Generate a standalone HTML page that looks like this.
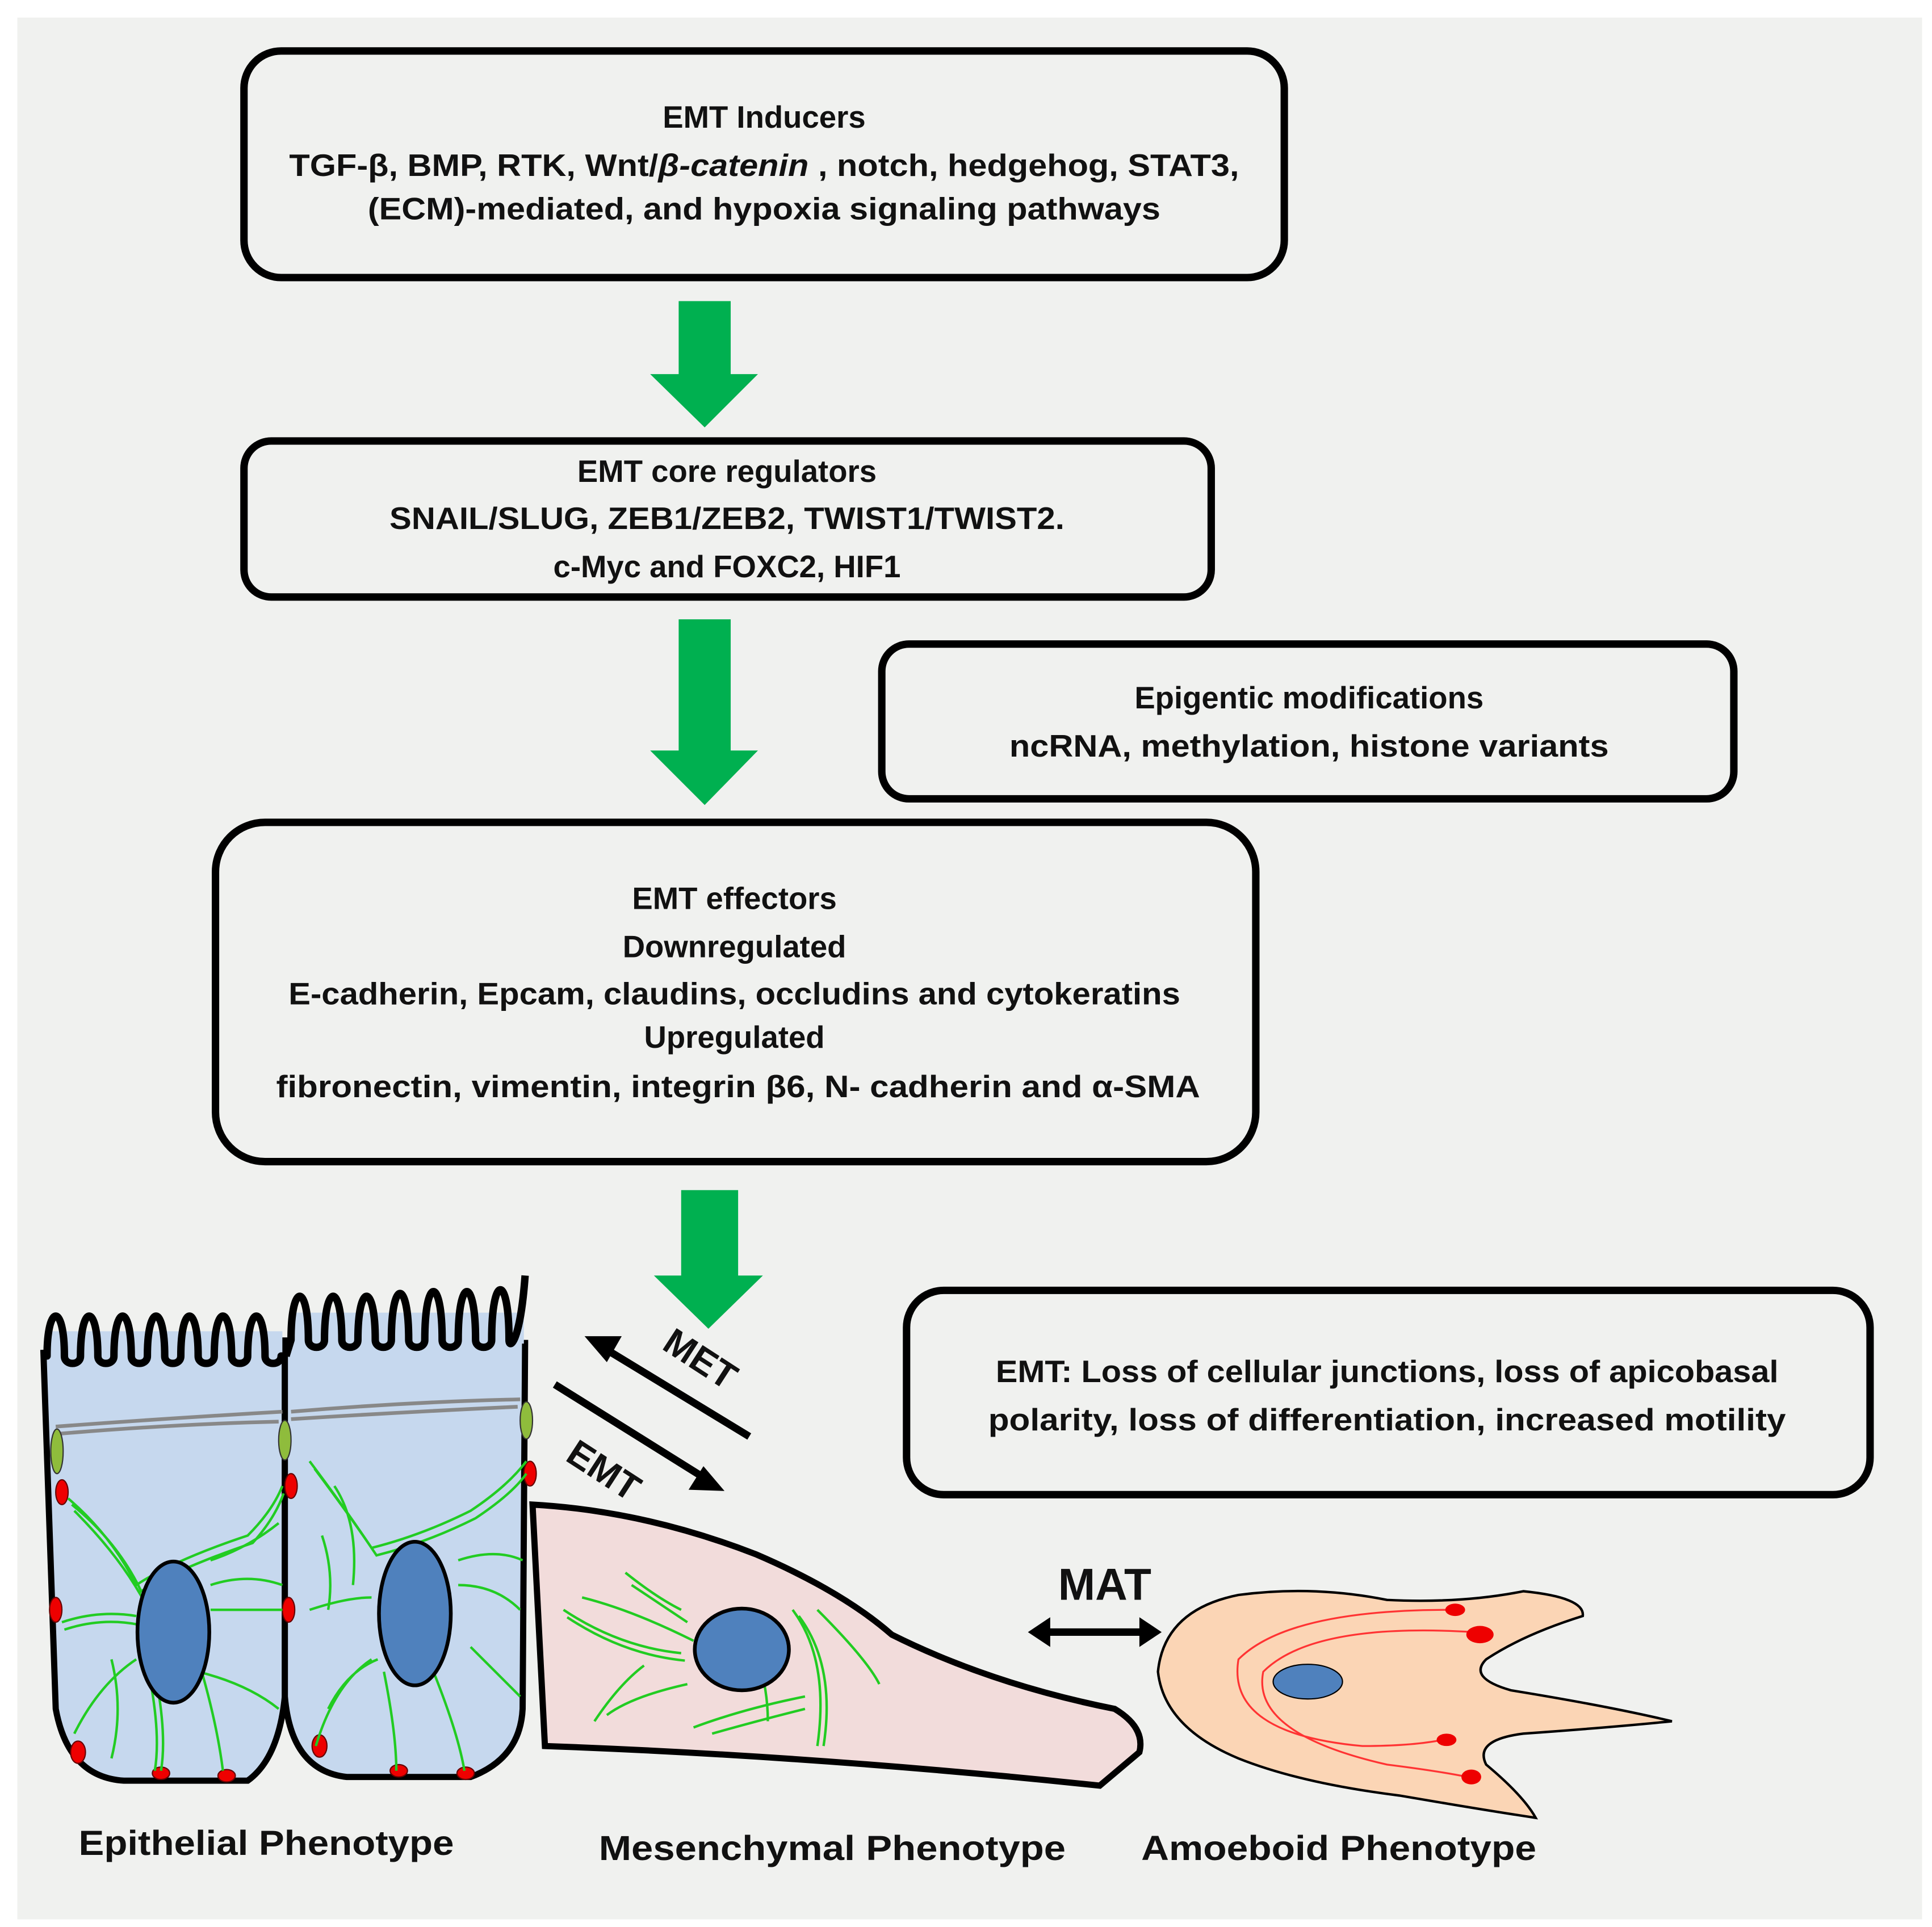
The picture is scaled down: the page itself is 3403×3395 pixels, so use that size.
<!DOCTYPE html>
<html><head><meta charset="utf-8"><style>
html,body{margin:0;padding:0;background:#fff}
svg{display:block}
text{font-family:"Liberation Sans",sans-serif;font-weight:bold;fill:#111;text-anchor:middle}
</style></head><body>
<svg width="3403" height="3395" viewBox="0 0 1560 1556" xmlns="http://www.w3.org/2000/svg">
<rect x="0" y="0" width="1560" height="1556" fill="#fff"/>
<rect x="14" y="14" width="1538" height="1536" fill="#f0f1ef"/>
<g fill="none" stroke="#000" stroke-width="6">
<rect x="197" y="41" width="840" height="183" rx="30"/>
<rect x="197" y="356" width="781" height="126" rx="22"/>
<rect x="712" y="520" width="688" height="125" rx="22"/>
<rect x="174" y="664" width="840" height="274" rx="40"/>
<rect x="732" y="1042" width="778" height="165" rx="30"/>
</g>
<g fill="#00b050">
<polygon points="548,243 590,243 590,302 612,302 569,345 525,302 548,302"/>
<polygon points="548,500 590,500 590,606 612,606 569,650 525,606 548,606"/>
<polygon points="550,961 596,961 596,1030 616,1030 572,1073 528,1030 550,1030"/>
</g>
<g font-size="25">
<text x="617" y="103">EMT Inducers</text>
<text x="617" y="142" textLength="767" lengthAdjust="spacingAndGlyphs">TGF-β, BMP, RTK, Wnt/<tspan font-style="italic">β-catenin</tspan> , notch, hedgehog, STAT3,</text>
<text x="617" y="177" textLength="640" lengthAdjust="spacingAndGlyphs">(ECM)-mediated, and hypoxia signaling pathways</text>
<text x="587" y="389">EMT core regulators</text>
<text x="587" y="427" textLength="545" lengthAdjust="spacingAndGlyphs">SNAIL/SLUG, ZEB1/ZEB2, TWIST1/TWIST2.</text>
<text x="587" y="466">c-Myc and FOXC2, HIF1</text>
<text x="1057" y="572">Epigentic modifications</text>
<text x="1057" y="611" textLength="484" lengthAdjust="spacingAndGlyphs">ncRNA, methylation, histone variants</text>
<text x="593" y="734">EMT effectors</text>
<text x="593" y="773">Downregulated</text>
<text x="593" y="811" textLength="720" lengthAdjust="spacingAndGlyphs">E-cadherin, Epcam, claudins, occludins and cytokeratins</text>
<text x="593" y="846">Upregulated</text>
<text x="596" y="886" textLength="746" lengthAdjust="spacingAndGlyphs">fibronectin, vimentin, integrin β6, N- cadherin and α-SMA</text>
<text x="1120" y="1116" textLength="632" lengthAdjust="spacingAndGlyphs">EMT: Loss of cellular junctions, loss of apicobasal</text>
<text x="1120" y="1155" textLength="644" lengthAdjust="spacingAndGlyphs">polarity, loss of differentiation, increased motility</text>
<text x="215" y="1498" font-size="28" textLength="303" lengthAdjust="spacingAndGlyphs">Epithelial Phenotype</text>
<text x="672" y="1502" font-size="28" textLength="377" lengthAdjust="spacingAndGlyphs">Mesenchymal  Phenotype</text>
<text x="1081" y="1502" font-size="28" textLength="319" lengthAdjust="spacingAndGlyphs">Amoeboid Phenotype</text>
<text x="892" y="1292" font-size="36">MAT</text>
<text transform="translate(560,1106) rotate(33)" font-size="30">MET</text>
<text transform="translate(482,1196) rotate(33)" font-size="30">EMT</text>
</g>
<g stroke="#000" stroke-width="6" fill="#000">
<line x1="605" y1="1160" x2="490" y2="1090"/>
<polygon points="472,1079 502,1079 490,1100" stroke="none"/>
<line x1="448" y1="1118" x2="568" y2="1193"/>
<polygon points="585,1204 556,1203 568,1184" stroke="none"/>
<line x1="845" y1="1318" x2="925" y2="1318"/>
<polygon points="830,1318 848,1306 848,1330" stroke="none"/>
<polygon points="938,1318 920,1306 920,1330" stroke="none"/>
</g>
<g stroke="#000" stroke-width="5">
<path d="M35,1090 Q40,1250 45,1380 Q55,1435 100,1438 L200,1438 Q225,1420 230,1370 L230,1090" fill="#c6d8ee"/>
<path d="M230,1080 L230,1370 Q235,1430 280,1435 L380,1435 Q420,1420 422,1380 L424,1082" fill="#c6d8ee"/>
<rect x="38" y="1075" width="190" height="20" fill="#c6d8ee" stroke="none"/>
<rect x="235" y="1060" width="188" height="25" fill="#c6d8ee" stroke="none"/>
</g>
<g fill="none" stroke="#000" stroke-width="6" stroke-linejoin="round">
<path d="M35,1095 L38,1095 C38,1052 52,1052 52,1095 C52,1103 65,1103 65,1095 C65,1052 79,1052 79,1095 C79,1103 92,1103 92,1095 C92,1052 106,1052 106,1095 C106,1103 119,1103 119,1095 C119,1052 133,1052 133,1095 C133,1103 146,1103 146,1095 C146,1052 160,1052 160,1095 C160,1103 173,1103 173,1095 C173,1052 187,1052 187,1095 C187,1103 200,1103 200,1095 C200,1052 214,1052 214,1095 C214,1103 227,1103 227,1095 L231,1095"/>
<path d="M231,1095 L235,1082 C235,1035 249,1035 249,1082 C249,1090 262,1090 262,1082 C262,1035 276,1035 276,1082 C276,1090 289,1090 289,1082 C289,1035 303,1035 303,1082 C303,1090 316,1090 316,1082 C316,1032 330,1032 330,1082 C330,1090 343,1090 343,1082 C343,1030 357,1030 357,1082 C357,1090 370,1090 370,1082 C370,1030 384,1030 384,1082 C384,1090 397,1090 397,1082 C397,1028 411,1028 411,1082 C411,1090 420,1085 424,1030"/>
</g>
<g fill="none" stroke="#888" stroke-width="3">
<path d="M45,1152 Q140,1145 228,1140"/><path d="M45,1158 Q140,1150 225,1148"/>
<path d="M235,1140 Q330,1132 420,1130"/><path d="M235,1146 Q330,1140 418,1136"/>
</g>
<g fill="#8fbc3c" stroke="#333" stroke-width="1"><ellipse cx="46" cy="1172" rx="5" ry="18"/><ellipse cx="230" cy="1163" rx="5" ry="16"/><ellipse cx="425" cy="1147" rx="5" ry="15"/></g>
<g fill="#e00" stroke="#600" stroke-width="1">
<ellipse cx="50" cy="1205" rx="5" ry="10"/><ellipse cx="45" cy="1300" rx="5" ry="10"/><ellipse cx="235" cy="1200" rx="5" ry="10"/><ellipse cx="233" cy="1300" rx="5" ry="10"/><ellipse cx="428" cy="1190" rx="5" ry="10"/>
<ellipse cx="63" cy="1415" rx="6" ry="9"/><ellipse cx="130" cy="1432" rx="7" ry="5"/><ellipse cx="183" cy="1434" rx="7" ry="5"/><ellipse cx="258" cy="1410" rx="6" ry="9"/><ellipse cx="322" cy="1430" rx="7" ry="5"/><ellipse cx="376" cy="1432" rx="7" ry="5"/>
</g>
<g fill="none" stroke="#22cc22" stroke-width="2">
<path d="M55,1210 Q90,1240 110,1280 Q140,1260 200,1240 Q220,1220 228,1200"/>
<path d="M58,1215 Q95,1245 114,1285 Q145,1266 204,1246 Q222,1226 229,1206"/>
<path d="M60,1220 Q100,1260 120,1300 M50,1310 Q80,1300 110,1305 M52,1316 Q82,1306 112,1312 M90,1340 Q100,1380 90,1420 M120,1350 Q130,1400 125,1430 M125,1350 Q135,1400 130,1430 M160,1340 Q175,1390 180,1430 M170,1300 Q200,1300 228,1300 M170,1280 Q200,1270 228,1280 M160,1350 Q200,1360 225,1380 M60,1400 Q80,1360 110,1340 M170,1260 Q200,1250 225,1230"/>
<path d="M250,1180 Q280,1220 300,1250 Q340,1240 380,1220 Q410,1200 425,1180 M254,1186 Q284,1226 304,1256 Q344,1246 384,1226 Q414,1206 425,1190 M250,1300 Q280,1290 300,1290 M255,1410 Q270,1360 300,1340 M310,1350 Q320,1400 320,1430 M350,1350 Q370,1400 375,1430 M370,1280 Q400,1280 420,1300 M370,1260 Q400,1250 422,1260 M380,1330 Q400,1350 420,1370 M270,1200 Q290,1230 285,1280 M260,1240 Q270,1270 265,1300 M265,1380 Q280,1350 305,1340"/>
</g>
<g fill="#4f81bd" stroke="#000" stroke-width="3"><ellipse cx="140" cy="1318" rx="29" ry="57"/><ellipse cx="335" cy="1303" rx="29" ry="58"/></g>
<path d="M430,1215 Q520,1220 610,1255 Q680,1285 720,1320 Q800,1360 900,1380 Q925,1395 920,1415 L888,1442 Q660,1418 440,1410 Z" fill="#f2dcdb" stroke="#000" stroke-width="5"/>
<g fill="none" stroke="#22cc22" stroke-width="2">
<path d="M470,1290 Q510,1300 560,1325 M455,1300 Q500,1330 550,1335 M458,1306 Q503,1336 553,1341 M505,1270 Q530,1290 550,1300 M510,1280 Q540,1300 555,1310 M480,1390 Q500,1360 520,1345 M490,1385 Q510,1370 555,1360 M560,1395 Q600,1380 650,1370 M575,1400 Q610,1390 650,1380 M640,1300 Q670,1340 660,1410 M660,1300 Q700,1340 710,1360 M600,1310 Q620,1350 620,1390 M645,1305 Q675,1345 665,1410"/>
</g>
<ellipse cx="599" cy="1332" rx="38" ry="33" fill="#4f81bd" stroke="#000" stroke-width="3"/>
<path d="M935,1350 Q940,1300 1000,1288 Q1060,1280 1120,1292 Q1180,1295 1230,1285 Q1280,1290 1278,1305 Q1230,1320 1200,1340 Q1185,1355 1220,1365 Q1300,1378 1350,1390 Q1300,1395 1230,1400 Q1190,1405 1200,1425 Q1230,1450 1240,1468 Q1200,1462 1130,1450 Q1050,1440 1000,1420 Q940,1395 935,1350 Z" fill="#fbd5b5" stroke="#000" stroke-width="2"/>
<g fill="none" stroke="#f33" stroke-width="1.5"><path d="M1170,1300 Q1040,1300 1000,1340 Q990,1400 1100,1410 Q1140,1410 1165,1405"/><path d="M1190,1318 Q1060,1310 1020,1350 Q1010,1400 1120,1425 Q1160,1430 1185,1435"/></g>
<g fill="#e00"><ellipse cx="1175" cy="1300" rx="8" ry="5"/><ellipse cx="1195" cy="1320" rx="11" ry="7"/><ellipse cx="1168" cy="1405" rx="8" ry="5"/><ellipse cx="1188" cy="1435" rx="8" ry="6"/></g>
<ellipse cx="1056" cy="1358" rx="28" ry="14" fill="#4f81bd" stroke="#000" stroke-width="1"/>
</svg>
</body></html>
